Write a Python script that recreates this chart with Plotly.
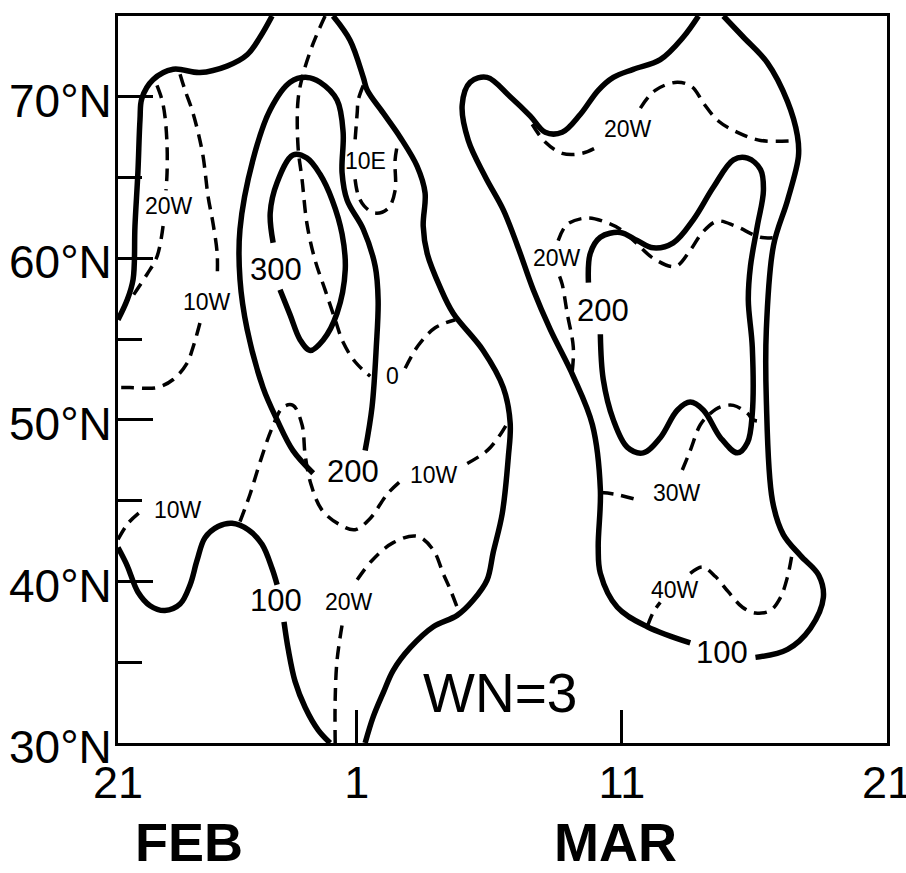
import plotly.graph_objects as go

# x = days after 21 Feb 1984 (1 Mar = 9, 11 Mar = 19, 21 Mar = 29); y = latitude (deg N)
x_tick_days = [0, 9, 19, 29]
x_tick_text = ["21", "1", "11", "21"]
y_tick_lats = [30, 40, 50, 60, 70]
y_tick_text = ["30°N", "40°N", "50°N", "60°N", "70°N"]
y_minor_lats = [35, 45, 55, 65]
month_names = ["FEB", "MAR"]
month_days = [2.68, 18.75]

# ---- amplitude isolines (solid) : (day, lat) ----
amp100_nw = [(0, 56.2), (0.34, 57.4), (0.57, 58.7), (0.64, 62.0), (0.75, 65.3), (0.83, 68.6), (0.9, 69.9),
             (1.32, 71.05), (2.08, 71.7), (3.09, 71.5), (4.11, 71.9), (4.87, 72.6), (5.36, 73.7), (5.81, 75.0)]
amp100_sw_a = [(0, 42.1), (0.34, 41.0), (0.75, 39.35), (1.21, 38.5), (1.77, 38.2), (2.34, 38.6), (2.72, 39.8),
               (2.98, 41.3), (3.28, 42.7), (3.77, 43.4), (4.30, 43.6), (4.91, 43.2), (5.43, 42.3), (5.81, 40.8),
               (6.00, 39.8)]
amp100_sw_b = [(6.26, 37.5), (6.42, 35.8), (6.68, 33.8), (7.06, 32.2), (7.55, 30.8), (8.00, 30.0)]
amp100_mid = [(8.11, 75.0), (8.75, 73.5), (9.25, 71.2), (9.40, 70.4), (10.0, 69.0), (10.64, 67.5), (11.28, 65.7),
              (11.58, 64.05), (11.51, 62.0), (11.66, 60.3), (12.15, 58.2), (12.64, 56.6), (13.77, 54.3),
              (14.53, 52.0), (14.79, 49.8), (14.72, 47.7), (14.49, 44.2), (14.15, 41.8), (13.92, 40.1),
              (13.40, 38.85), (12.79, 37.9), (11.89, 37.2), (11.02, 35.9), (10.38, 34.5), (10.0, 33.1),
              (9.62, 31.6), (9.32, 30.0)]
amp200_w = [(7.36, 46.7), (6.60, 48.1), (6.00, 50.0), (5.47, 52.0), (4.87, 55.6), (4.60, 58.7), (4.60, 61.8),
            (5.09, 66.1), (5.74, 69.2), (6.49, 70.9), (7.13, 71.2), (7.62, 70.9), (8.26, 69.8), (8.49, 67.8),
            (8.45, 65.3), (8.64, 63.6), (9.25, 61.8), (9.70, 59.5), (9.81, 57.4), (9.74, 54.5), (9.58, 50.8),
            (9.32, 48.1)]
amp300_w = [(5.85, 60.96), (5.74, 62.8), (6.00, 64.7), (6.60, 66.4), (7.13, 66.2), (7.62, 65.2), (8.08, 63.6),
            (8.45, 61.5), (8.57, 59.3), (8.26, 56.6), (7.74, 54.95), (7.25, 54.3), (6.87, 54.95), (6.49, 56.5),
            (6.11, 58.05)]
amp100_e_a = [(21.89, 75.0), (21.32, 73.7), (20.45, 72.3), (19.43, 71.7), (18.68, 71.2), (18.11, 70.4),
              (17.43, 68.9), (16.75, 67.8), (16.11, 67.8), (15.55, 68.8), (14.79, 70.0), (13.92, 71.2),
              (13.28, 70.9), (12.98, 69.5), (13.21, 67.3), (13.85, 65.05), (14.53, 63.0), (15.06, 60.8),
              (15.66, 58.05), (16.30, 55.6), (17.17, 52.7), (17.89, 49.7), (18.19, 45.7), (18.11, 42.1),
              (18.19, 40.5), (18.83, 38.4), (19.96, 37.2), (21.58, 36.2)]
amp100_e_b = [(24.04, 35.3), (25.25, 35.8), (26.11, 37.1), (26.60, 39.0), (26.42, 40.4), (25.74, 41.6),
              (25.09, 42.9), (24.68, 45.0), (24.45, 51.2), (24.45, 55.6), (24.72, 60.8), (25.25, 63.6),
              (25.66, 66.3), (25.62, 67.6), (25.25, 69.7), (24.49, 72.1), (23.58, 73.7), (22.83, 75.0)]
amp200_e = [(17.74, 58.5), (17.81, 60.3), (18.19, 61.3), (18.94, 61.6), (19.58, 61.1), (20.19, 60.65),
            (20.94, 60.96), (21.70, 62.4), (22.45, 64.4), (23.21, 66.1), (23.74, 66.2), (24.23, 65.5),
            (24.34, 64.2), (24.11, 62.0), (23.85, 59.5), (23.77, 57.4), (23.92, 54.5), (23.92, 50.4),
            (23.74, 48.6), (23.36, 47.96), (22.72, 48.9), (22.08, 50.6), (21.58, 51.1), (21.09, 50.6),
            (20.45, 48.9), (19.81, 47.96), (19.21, 48.3), (18.68, 50.0), (18.30, 52.5), (18.19, 55.3)]

# ---- phase isolines (dashed) : (day, lat) ----
ph20w_nw_a = [(1.47, 70.7), (1.66, 69.8), (1.77, 68.8), (1.85, 67.0), (1.85, 65.3), (1.81, 64.2)]
ph20w_nw_b = [(1.70, 62.0), (1.47, 60.1), (1.09, 59.0), (0.57, 57.7)]
ph10w_nw_a = [(2.34, 71.4), (2.53, 70.4), (2.79, 69.2), (3.02, 67.8), (3.21, 66.3), (3.40, 63.8), (3.58, 62.2),
              (3.74, 60.3), (3.74, 58.7)]
ph10w_nw_b = [(3.09, 56.0), (2.83, 54.5), (2.60, 53.5), (2.08, 52.5), (1.47, 52.0), (0.45, 52.0), (0, 52.0)]
ph0_a = [(7.81, 75.0), (7.36, 73.3), (6.98, 71.4), (6.79, 69.8), (6.79, 66.9), (6.94, 64.9), (7.13, 62.1),
         (7.43, 59.9), (7.81, 58.05), (8.19, 56.2), (8.49, 54.8), (8.94, 53.6), (9.51, 52.7)]
ph0_b = [(10.83, 53.2), (11.32, 54.6), (11.96, 55.7), (12.72, 56.2)]
ph10e_a = [(9.25, 70.7), (9.06, 69.8), (9.02, 69.0), (8.94, 67.3)]
ph10e_b = [(8.94, 64.9), (9.06, 63.9), (9.28, 63.25), (9.70, 62.8), (10.19, 63.1), (10.45, 64.2), (10.45, 66.1),
           (10.57, 67.3)]
ph10w_sw_a = [(0, 42.6), (0.38, 43.6), (0.83, 44.3)]
ph10w_sw_b = [(4.60, 43.7), (4.98, 45.4), (5.36, 47.4), (5.81, 49.5), (6.23, 50.8), (6.60, 50.9), (6.94, 49.7),
              (7.06, 47.8), (7.28, 46.0), (7.70, 44.4), (8.38, 43.5), (8.94, 43.2), (9.51, 43.9), (10.15, 45.4),
              (10.72, 46.3)]
ph10w_sw_c = [(13.17, 47.3), (13.92, 48.1), (14.42, 49.1), (14.72, 49.9)]
ph20w_s_a = [(8.19, 30.0), (8.19, 32.7), (8.26, 35.1), (8.45, 37.3)]
ph20w_s_b = [(9.02, 40.1), (9.58, 41.3), (10.38, 42.4), (11.28, 42.8), (11.89, 41.95), (12.26, 40.5),
             (12.53, 39.5), (12.79, 38.4)]
ph20w_ne_a = [(15.62, 68.3), (16.11, 67.2), (16.75, 66.5), (17.51, 66.5), (18.19, 67.0)]
ph20w_ne_b = [(19.70, 69.3), (20.26, 70.4), (21.09, 70.9), (21.66, 70.6), (22.08, 69.6), (22.64, 68.5),
              (23.36, 67.8), (24.23, 67.3), (25.66, 67.3)]
ph20w_e_a = [(17.13, 53.0), (17.17, 54.5), (16.94, 56.6), (16.75, 58.4), (16.60, 59.1)]
ph20w_e_b = [(16.60, 61.1), (16.94, 62.1), (17.70, 62.5), (18.45, 62.2), (18.94, 61.8), (19.51, 61.0),
             (20.19, 60.0), (21.02, 59.5), (21.58, 60.5), (22.04, 61.6), (22.60, 62.3), (23.28, 62.0),
             (24.23, 61.3), (24.87, 61.3)]
ph30w_a = [(18.19, 45.5), (18.75, 45.4), (19.70, 45.0)]
ph30w_b = [(21.28, 46.9), (21.58, 48.1), (21.96, 49.7), (22.34, 50.4), (22.72, 50.8), (23.21, 50.9),
           (23.74, 50.4), (23.96, 50.0), (24.34, 49.9)]
ph40w_a = [(19.96, 37.2), (20.19, 38.1), (20.45, 38.7)]
ph40w_b = [(21.58, 40.5), (22.04, 40.9), (22.53, 40.3), (23.02, 39.35), (23.55, 38.4), (24.04, 38.05),
           (24.60, 38.2), (24.98, 39.0), (25.25, 40.3), (25.43, 41.8)]

# ---- isoline labels ----
amp_label_text = ["100", "300", "200", "100", "200"]
amp_label_day = [5.96, 5.96, 8.87, 22.79, 18.30]
amp_label_lat = [38.85, 59.3, 46.8, 35.6, 56.8]
ph_label_text = ["20W", "10W", "0", "10E", "10W", "10W", "20W", "20W", "20W", "30W", "40W"]
ph_label_day = [1.92, 3.36, 10.34, 9.32, 2.26, 11.92, 8.72, 19.25, 16.57, 21.09, 21.02]
ph_label_lat = [63.25, 57.3, 52.7, 66.0, 44.4, 46.6, 38.7, 68.0, 60.0, 45.5, 39.5]
panel_text = "WN=3"
panel_day, panel_lat = 14.4, 33.1

solid_lines = [amp100_nw, amp100_sw_a, amp100_sw_b, amp100_mid, amp200_w, amp300_w,
               amp100_e_a, amp100_e_b, amp200_e]
dashed_lines = [ph20w_nw_a, ph20w_nw_b, ph10w_nw_a, ph10w_nw_b, ph0_a, ph0_b, ph10e_a, ph10e_b,
                ph10w_sw_a, ph10w_sw_b, ph10w_sw_c, ph20w_s_a, ph20w_s_b, ph20w_ne_a, ph20w_ne_b,
                ph20w_e_a, ph20w_e_b, ph30w_a, ph30w_b, ph40w_a, ph40w_b]

FONT = "Liberation Sans, Arial, sans-serif"

fig = go.Figure()
for seg in dashed_lines:
    fig.add_trace(go.Scatter(x=[p[0] for p in seg], y=[p[1] for p in seg], mode="lines",
                             line=dict(color="black", width=3.5, dash="13px,8px", shape="spline", smoothing=1.0),
                             showlegend=False, hoverinfo="skip"))
for seg in solid_lines:
    fig.add_trace(go.Scatter(x=[p[0] for p in seg], y=[p[1] for p in seg], mode="lines",
                             line=dict(color="black", width=5.5, shape="spline", smoothing=1.0),
                             showlegend=False, hoverinfo="skip"))

for t, d, l in zip(amp_label_text, amp_label_day, amp_label_lat):
    fig.add_annotation(x=d, y=l, text=t, showarrow=False, font=dict(family=FONT, size=31, color="black"))
for t, d, l in zip(ph_label_text, ph_label_day, ph_label_lat):
    fig.add_annotation(x=d, y=l, text=t, showarrow=False, font=dict(family=FONT, size=23, color="black"))
fig.add_annotation(x=panel_day, y=panel_lat, text=panel_text, showarrow=False,
                   font=dict(family=FONT, size=55, color="black"))
for name, d in zip(month_names, month_days):
    fig.add_annotation(x=d, y=-0.136, xref="x", yref="paper", text="<b>" + name + "</b>", showarrow=False,
                       font=dict(family=FONT, size=54, color="black"), yanchor="middle")

fig.update_layout(
    width=906, height=873, margin=dict(l=118, r=19, t=16, b=130, autoexpand=False),
    paper_bgcolor="white", plot_bgcolor="white",
    xaxis=dict(range=[0, 29], tickmode="array", tickvals=x_tick_days, ticktext=x_tick_text,
               ticks="inside", ticklen=33, tickwidth=3, tickcolor="black",
               showline=True, linecolor="black", linewidth=3, mirror=True,
               showgrid=False, zeroline=False, automargin=False, ticklabeloverflow="allow",
               ticklabelstandoff=-2,
               tickfont=dict(family=FONT, size=45, color="black")),
    yaxis=dict(range=[30, 75], tickmode="array", tickvals=y_tick_lats, ticktext=y_tick_text,
               ticks="inside", ticklen=35, tickwidth=3, tickcolor="black",
               minor=dict(tickmode="array", tickvals=y_minor_lats, ticks="inside", ticklen=24,
                          tickwidth=3, tickcolor="black"),
               showline=True, linecolor="black", linewidth=3, mirror=True,
               showgrid=False, zeroline=False, automargin=False, ticklabeloverflow="allow",
               ticklabelstandoff=-6, ticklabelshift=4,
               tickfont=dict(family=FONT, size=46, color="black")),
)

fig.write_html("out.html")
